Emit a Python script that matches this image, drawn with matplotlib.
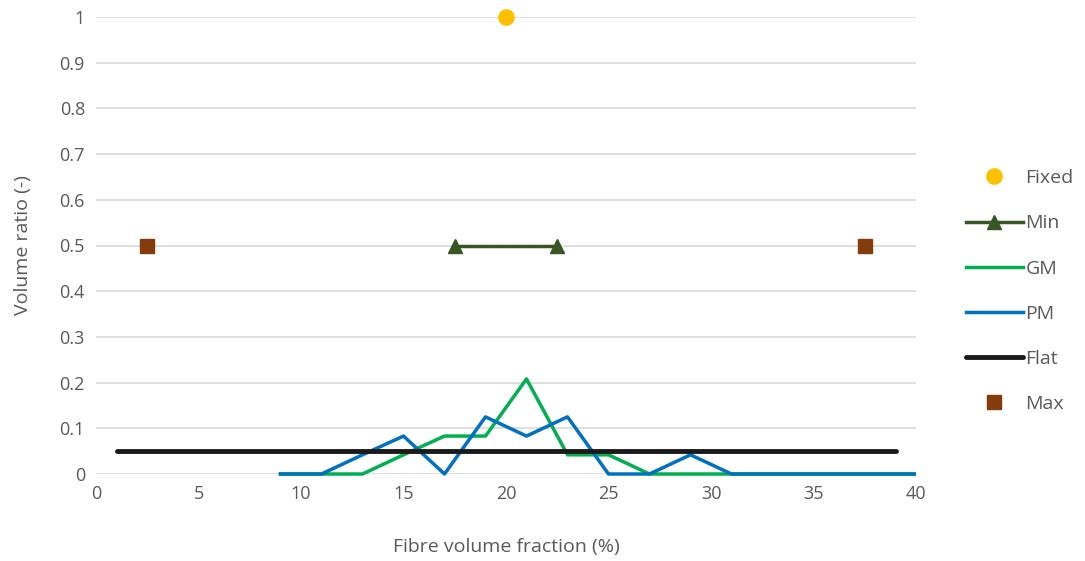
import matplotlib
matplotlib.use("Agg")
import matplotlib.pyplot as plt
from matplotlib.ticker import FuncFormatter
from matplotlib.patches import Rectangle

plt.rcParams['font.family'] = ['Open Sans', 'DejaVu Sans']

fixed_x = [20]
fixed_y = [1.0]
min_x = [17.5, 22.5]
min_y = [0.5, 0.5]
gm_x = [9, 11, 13, 15, 17, 19, 21, 23, 25, 27, 29, 31, 33, 35, 37, 39, 41]
gm_y = [0, 0, 0, 0.042, 0.083, 0.083, 0.208, 0.042, 0.042, 0, 0, 0, 0, 0, 0, 0, 0]
pm_x = [9, 11, 13, 15, 17, 19, 21, 23, 25, 27, 29, 31, 33, 35, 37, 39, 41]
pm_y = [0, 0, 0.042, 0.083, 0, 0.125, 0.083, 0.125, 0, 0, 0.042, 0, 0, 0, 0, 0, 0]
flat_x = [1, 39]
flat_y = [0.05, 0.05]
max_x = [2.5, 37.5]
max_y = [0.5, 0.5]

fig = plt.figure(figsize=(10.85, 5.61), dpi=100)
ax = fig.add_axes([96/1085, 87/561, 820/1085, 457/561])

tc = '#595959'
ax.plot(fixed_x, fixed_y, 'o', color='#FFC000', markersize=11, label='Fixed', zorder=5, clip_on=False)
ax.plot(min_x, min_y, '-^', color='#375623', lw=2.5, markersize=10, label='Min', zorder=5)
l_gm, = ax.plot(gm_x, gm_y, '-', color='#00B050', lw=2.5, label='GM', zorder=3)
l_pm, = ax.plot(pm_x, pm_y, '-', color='#0070C0', lw=2.5, label='PM', zorder=4)
ax.plot(flat_x, flat_y, '-', color='#1a1a1a', lw=3.5, label='Flat', zorder=4, solid_capstyle='round')
ax.plot(max_x, max_y, 's', color='#843C0C', markersize=10, label='Max', zorder=5)

clip = Rectangle((0, -0.1), 1, 1.2, transform=ax.transAxes, fill=False, visible=False)
ax.add_patch(clip)
for ln in (l_gm, l_pm):
    ln.set_clip_path(clip)

ax.set_xlim(0, 40)
ax.set_ylim(0, 1)
ax.set_xticks(range(0, 41, 5))
ax.set_yticks([i / 10 for i in range(11)])
ax.yaxis.set_major_formatter(FuncFormatter(lambda v, p: '0' if v == 0 else ('1' if abs(v - 1) < 1e-9 else f'{v:.1f}')))
ax.grid(axis='y', color='#D9D9D9', lw=1.2, zorder=0)
ax.set_axisbelow(True)
for s in ax.spines.values():
    s.set_visible(False)
ax.tick_params(length=0, labelsize=13, colors=tc, pad=8)
ax.set_xlabel('Fibre volume fraction (%)', fontsize=14, color=tc, labelpad=25)
ax.set_ylabel('Volume ratio (-)', fontsize=14, color=tc, labelpad=20)

leg = ax.legend(loc='center left', bbox_to_anchor=(1.04, 0.40), frameon=False,
                fontsize=14, labelspacing=1.4, handlelength=2.9, handletextpad=0.15,
                labelcolor=tc)
fig.savefig('out.png', dpi=100)
